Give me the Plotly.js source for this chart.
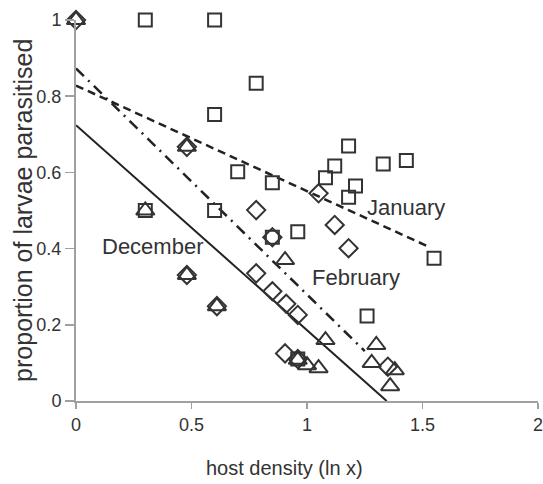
<!DOCTYPE html>
<html>
<head>
<meta charset="utf-8">
<script src="https://cdn.plot.ly/plotly-3.0.1.min.js"></script>
<style>html,body{margin:0;padding:0;background:#fff;}#chart{width:543px;height:484px;}</style>
</head>
<body>
<div id="chart"></div>
<script>
// January (squares)
var janX = [0.30, 0.60, 0.78, 0.60, 0.70, 0.30, 0.60, 0.85, 0.85, 0.96, 1.08, 1.12, 1.18, 1.18, 1.21, 1.33, 1.43, 1.55, 1.26, 0.96];
var janY = [1.00, 1.00, 0.834, 0.752, 0.602, 0.50, 0.50, 0.573, 0.43, 0.444, 0.586, 0.617, 0.669, 0.535, 0.564, 0.622, 0.631, 0.375, 0.223, 0.11];
// February (diamonds)
var febX = [0, 0.48, 0.48, 0.61, 0.78, 0.78, 0.85, 0.85, 0.91, 0.96, 0.905, 0.96, 1.05, 1.12, 1.18, 1.35];
var febY = [1.00, 0.667, 0.331, 0.249, 0.501, 0.335, 0.43, 0.288, 0.255, 0.226, 0.125, 0.11, 0.545, 0.462, 0.401, 0.09];
// December (triangles)
var decX = [0, 0.30, 0.48, 0.48, 0.61, 0.905, 0.96, 1.00, 1.05, 1.08, 1.28, 1.30, 1.36, 1.38];
var decY = [1.00, 0.50, 0.667, 0.331, 0.249, 0.37, 0.108, 0.094, 0.086, 0.16, 0.10, 0.147, 0.039, 0.081];
// fitted lines (end points)
var janLineX = [0, 1.53], janLineY = [0.828, 0.404];
var febLineX = [0, 1.25], febLineY = [0.873, 0.131];
var decLineX = [0, 1.345], decLineY = [0.724, 0];
// labels
var labelText = ['January', 'February', 'December'];
var labelX = [1.43, 1.21, 0.33];
var labelY = [0.507, 0.323, 0.405];
var xTicks = [0, 0.5, 1, 1.5, 2];
var yTicks = [0, 0.2, 0.4, 0.6, 0.8, 1];
var xTitle = 'host density (ln x)';
var yTitle = 'proportion of larvae parasitised';

var ink = '#333333';
var font = 'Liberation Sans, Arial, sans-serif';

var traces = [
  {x: janLineX, y: janLineY, mode: 'lines', line: {color: '#222', width: 2.5, dash: '8px,5px'}, hoverinfo: 'skip'},
  {x: febLineX, y: febLineY, mode: 'lines', line: {color: '#222', width: 2.5, dash: '11px,6px,2px,6px'}, hoverinfo: 'skip'},
  {x: decLineX, y: decLineY, mode: 'lines', line: {color: '#222', width: 2}, hoverinfo: 'skip'},
  {x: janX, y: janY, mode: 'markers', marker: {symbol: 'square-open', size: 13, color: ink, line: {width: 2, color: ink}}},
  {x: febX, y: febY, mode: 'markers', marker: {symbol: 'diamond-open', size: 14, color: ink, line: {width: 2, color: ink}}},
  {x: decX, y: decY, mode: 'markers', marker: {symbol: 'triangle-up-open', size: 16, color: ink, line: {width: 2, color: ink}}}
];
traces.forEach(function(t){ t.cliponaxis = false; t.showlegend = false; });

var annotations = labelText.map(function(s, i){
  return {x: labelX[i], y: labelY[i], xref: 'x', yref: 'y', text: s, showarrow: false,
          font: {family: font, size: 22, color: ink}, xanchor: 'center', yanchor: 'middle'};
});
annotations.push({x: 0.452, y: -0.176, xref: 'paper', yref: 'paper', text: xTitle, showarrow: false,
  font: {family: font, size: 20, color: ink}, xanchor: 'center', yanchor: 'middle'});
annotations.push({x: -0.116, y: 0.5, xref: 'paper', yref: 'paper', text: yTitle, showarrow: false, textangle: -90,
  font: {family: font, size: 25, color: ink}, xanchor: 'center', yanchor: 'middle'});

var layout = {
  width: 543, height: 484,
  margin: {l: 76, r: 5, t: 20, b: 83},
  paper_bgcolor: '#fff', plot_bgcolor: '#fff',
  font: {family: font, color: ink},
  xaxis: {range: [0, 2], tickvals: xTicks, ticktext: xTicks.map(String), showgrid: false, zeroline: false,
    showline: true, linecolor: '#a0a0a0', linewidth: 2, ticks: 'outside', ticklen: 6, tickcolor: '#a0a0a0', tickwidth: 1.5,
    ticklabeloverflow: 'allow', automargin: false,
    tickfont: {family: font, size: 18, color: ink}},
  yaxis: {range: [0, 1], tickvals: yTicks, ticktext: yTicks.map(String), showgrid: false, zeroline: false,
    showline: true, linecolor: '#a0a0a0', linewidth: 2, ticks: 'outside', ticklen: 9, tickcolor: '#a0a0a0', tickwidth: 1.5,
    ticklabeloverflow: 'allow', automargin: false,
    tickfont: {family: font, size: 18, color: ink}},
  annotations: annotations
};

Plotly.newPlot('chart', traces, layout, {staticPlot: true, displayModeBar: false});
</script>
</body>
</html>
